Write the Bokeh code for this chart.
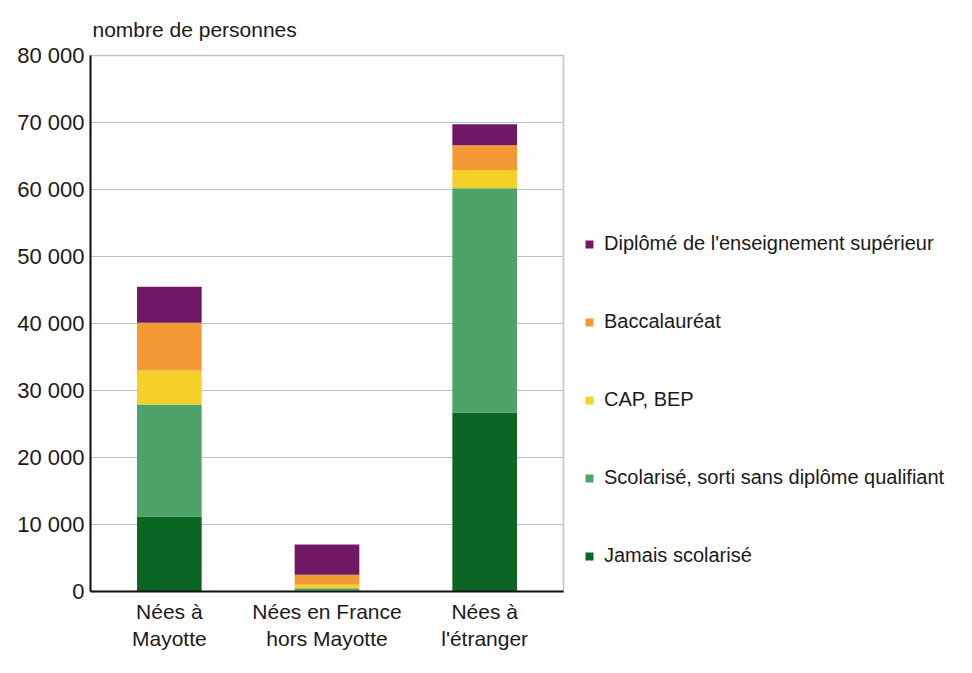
from bokeh.plotting import figure
from bokeh.models import (FactorRange, Range1d, FixedTicker, Legend, LegendItem, Title)
from bokeh.embed import file_html
from bokeh.resources import INLINE

categories = ["Nées à\nMayotte", "Nées en France\nhors Mayotte", "Nées à\nl'étranger"]
series_names = ["Jamais scolarisé", "Scolarisé, sorti sans diplôme qualifiant",
                "CAP, BEP", "Baccalauréat", "Diplômé de l'enseignement supérieur"]
jamais = [11200, 100, 26700]
scolarise = [16700, 400, 33500]
cap_bep = [5100, 500, 2700]
bac = [7100, 1500, 3700]
diplome = [5400, 4500, 3150]
colors = ["#0b6624", "#4da368", "#f5d02b", "#f39a35", "#701866"]
y_ticks = [0, 10000, 20000, 30000, 40000, 50000, 60000, 70000, 80000]
y_tick_labels = ["0", "10 000", "20 000", "30 000", "40 000", "50 000", "60 000", "70 000", "80 000"]

FONT = "Liberation Sans Narrow, Liberation Sans, sans-serif"

data = {"cat": categories, "j": jamais, "s": scolarise, "c": cap_bep, "b": bac, "d": diplome}
keys = ["j", "s", "c", "b", "d"]

p = figure(x_range=FactorRange(*categories), y_range=Range1d(0, 80000),
           frame_width=473, frame_height=536,
           min_border_left=90, min_border_right=390, min_border_top=55, min_border_bottom=70,
           output_backend="svg", toolbar_location=None)

renderers = p.vbar_stack(keys, x="cat", width=0.41, color=colors, source=data, line_width=0)

items = [LegendItem(label=series_names[i], renderers=[renderers[i]]) for i in range(4, -1, -1)]
legend = Legend(items=items, location=(21, 24), glyph_width=10, glyph_height=10,
                label_text_font=FONT, label_text_font_size="20px", label_text_color="#1a1a1a",
                label_standoff=10, label_height=20, spacing=55, padding=0, margin=0,
                border_line_alpha=0, background_fill_alpha=0)
p.add_layout(legend, "right")

p.title = Title(text="nombre de personnes", text_font=FONT, text_font_size="21px",
                text_font_style="normal", text_color="#1a1a1a", offset=2, standoff=30)

p.yaxis.ticker = FixedTicker(ticks=y_ticks)
p.yaxis.major_label_overrides = {t: l for t, l in zip(y_ticks, y_tick_labels)}
p.yaxis.major_label_text_font = FONT
p.yaxis.major_label_text_font_size = "22px"
p.yaxis.major_label_text_color = "#1a1a1a"
p.yaxis.major_tick_out = 0
p.yaxis.major_tick_in = 0
p.yaxis.minor_tick_out = 0
p.yaxis.minor_tick_in = 0
p.yaxis.major_label_standoff = 6
p.yaxis.axis_line_color = "#111111"
p.yaxis.axis_line_width = 2

p.xaxis.major_label_text_font = FONT
p.xaxis.major_label_text_font_size = "21px"
p.xaxis.major_label_text_color = "#1a1a1a"
p.xaxis.major_tick_out = 0
p.xaxis.major_tick_in = 0
p.xaxis.major_label_standoff = 8
p.xaxis.axis_line_color = "#111111"
p.xaxis.axis_line_width = 2

p.xgrid.grid_line_color = None
p.ygrid.grid_line_color = "#b9c3d3"
p.ygrid.grid_line_width = 1
p.outline_line_color = "#b9c3d3"
p.outline_line_width = 1.5

open("out.html", "w").write(file_html(p, INLINE))
